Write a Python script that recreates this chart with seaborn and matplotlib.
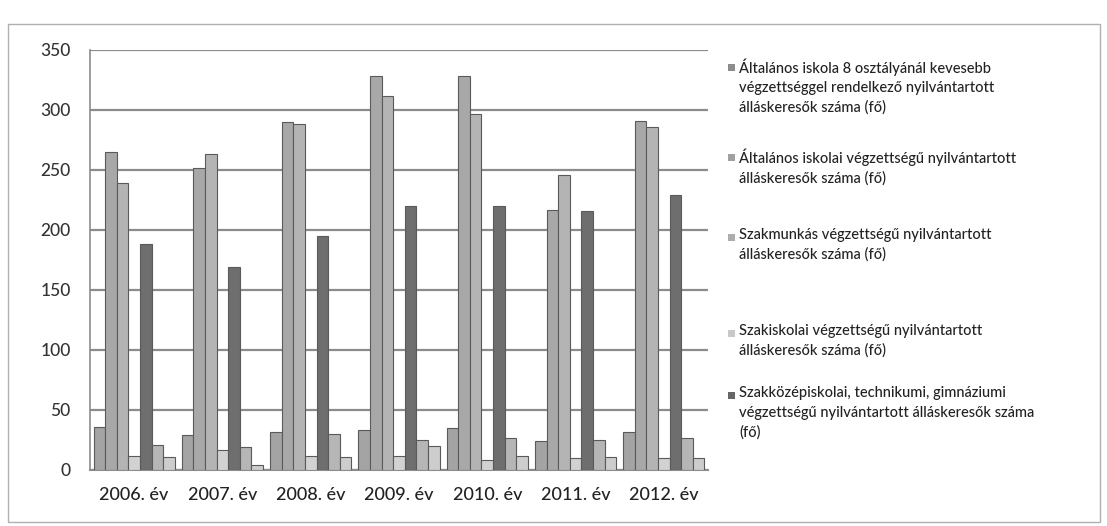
import numpy as np
import pandas as pd
import matplotlib.pyplot as plt
import seaborn as sns
from matplotlib.patches import Rectangle

# adatok
years = ["2006. év", "2007. év", "2008. év", "2009. év", "2010. év", "2011. év", "2012. év"]

kevesebb_8 = [36, 29, 32, 33, 35, 24, 32]
altalanos = [265, 252, 290, 328, 328, 217, 291]
szakmunkas = [239, 263, 288, 312, 297, 246, 286]
szakiskola = [12, 17, 12, 12, 8, 10, 10]
szakkozep = [188, 169, 195, 220, 220, 216, 229]
sor_6 = [21, 19, 30, 25, 27, 25, 27]
sor_7 = [11, 4, 11, 20, 12, 11, 10]

legend_labels = [
    "Általános iskola 8 osztályánál kevesebb\nvégzettséggel rendelkező nyilvántartott\nálláskeresők száma (fő)",
    "Általános iskolai végzettségű nyilvántartott\nálláskeresők száma (fő)",
    "Szakmunkás végzettségű nyilvántartott\nálláskeresők száma (fő)",
    "Szakiskolai végzettségű nyilvántartott\nálláskeresők száma (fő)",
    "Szakközépiskolai, technikumi, gimnáziumi\nvégzettségű nyilvántartott álláskeresők száma\n(fő)",
]
series_names = ["s1", "s2", "s3", "s4", "s5", "s6", "s7"]
series_values = [kevesebb_8, altalanos, szakmunkas, szakiskola, szakkozep, sor_6, sor_7]
colors = ["#a4a4a4", "#a8a8a8", "#b4b4b4", "#d2d2d2", "#6e6e6e", "#b6b6b6", "#cdcdcd"]
legend_colors = ["#8c8c8c", "#a0a0a0", "#acacac", "#c8c8c8", "#666666"]

rows = []
for name, vals in zip(series_names, series_values):
    for y, v in zip(years, vals):
        rows.append({"év": y, "sorozat": name, "fő": v})
df = pd.DataFrame(rows)

sns.set_style("white")
plt.rcParams["font.family"] = ["Lato", "DejaVu Sans"]

fig = plt.figure(figsize=(11.07, 5.26), dpi=100)
ax = fig.add_axes([90 / 1107, 56 / 526, 618 / 1107, 420 / 526])

sns.barplot(data=df, x="év", y="fő", hue="sorozat", palette=colors,
            width=0.92, dodge=True, edgecolor="#5a5a5a", linewidth=0.8,
            legend=False, ax=ax, zorder=3)

ax.set_ylim(0, 350)
ax.set_yticks(np.arange(0, 351, 50))
ax.set_xlim(-0.5, len(years) - 0.5)
ax.set_xticks(np.arange(-0.5, len(years), 1.0), minor=True)
ax.yaxis.grid(True, color="#8c8c8c", linewidth=1.6, zorder=0)
ax.set_axisbelow(True)
ax.set_xlabel("")
ax.set_ylabel("")
ax.tick_params(axis="y", labelsize=12.5, colors="#333333", pad=14, length=0)
ax.tick_params(axis="x", which="major", labelsize=13, colors="#222222", pad=12, length=0)
ax.tick_params(axis="x", which="minor", length=5, color="#8c8c8c", width=1, direction="out")
for lab in ax.get_xticklabels() + ax.get_yticklabels():
    lab.set_fontweight("medium")
for s in ["top", "right"]:
    ax.spines[s].set_visible(False)
ax.spines["left"].set_color("#8c8c8c")
ax.spines["bottom"].set_color("#8c8c8c")
ax.spines["left"].set_linewidth(1.2)
ax.spines["bottom"].set_linewidth(1.5)

# jelmagyarázat kézzel elhelyezve
first_line_y = [67, 157, 237, 333, 395]
for lab, col, yy in zip(legend_labels, legend_colors, first_line_y):
    fy = 1 - yy / 526
    fig.patches.append(Rectangle((728 / 1107, fy - 3.5 / 526), 7 / 1107, 7 / 526,
                                 transform=fig.transFigure, facecolor=col,
                                 edgecolor="none"))
    fig.text(739 / 1107, fy + 9 / 526, lab, ha="left", va="top", fontsize=10.5,
             color="#222222", linespacing=1.5, fontweight="medium")

# keret
fig.patches.append(Rectangle((8 / 1107, 4 / 526), 1092 / 1107, 498 / 526,
                             transform=fig.transFigure, facecolor="none",
                             edgecolor="#b0b0b0", linewidth=1))

fig.savefig("out.png", dpi=100)
